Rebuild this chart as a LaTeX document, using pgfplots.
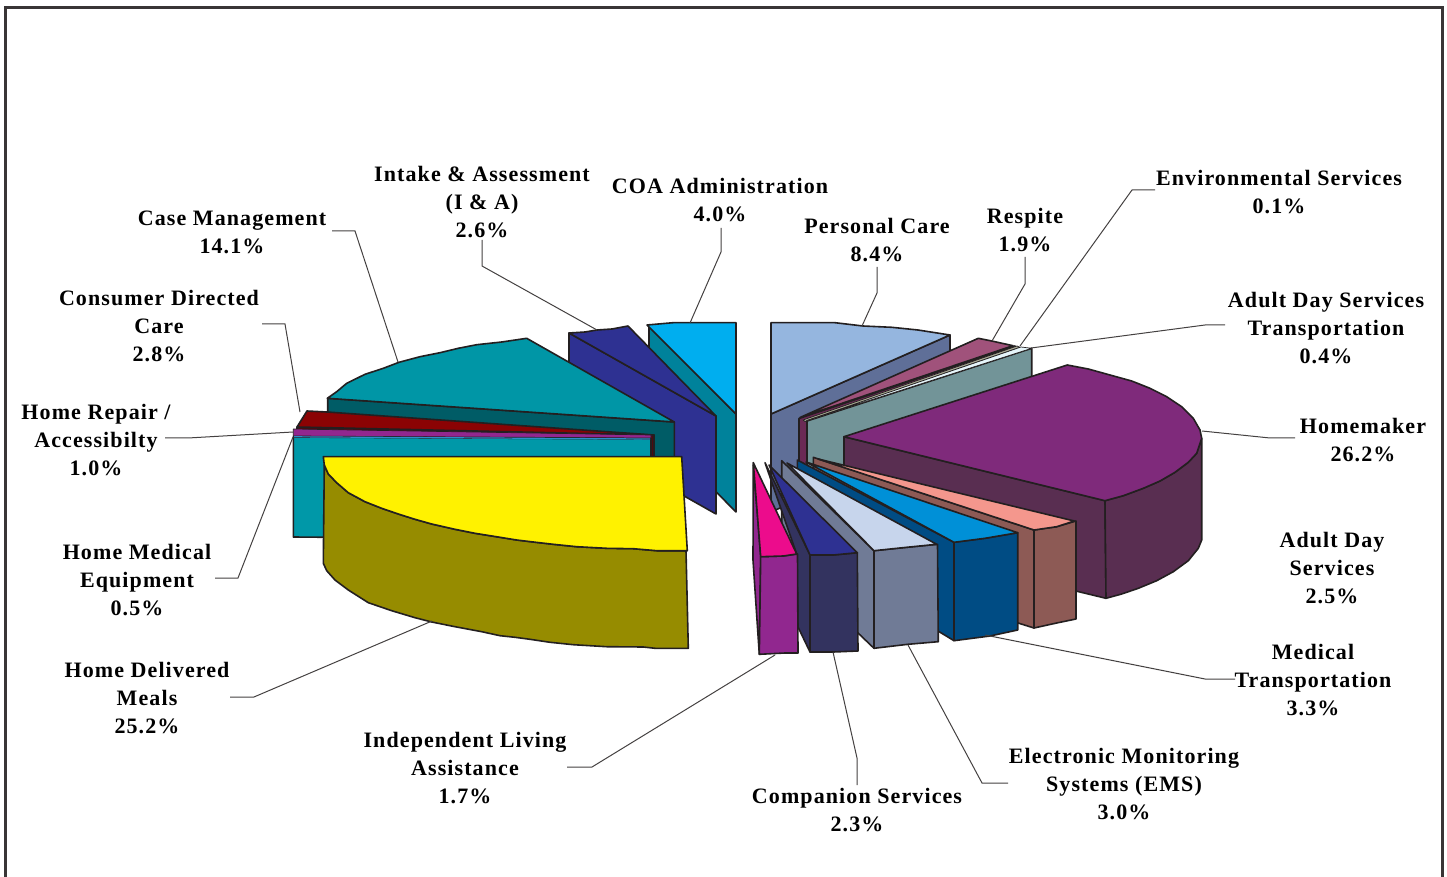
\documentclass[border=0pt]{standalone}
\usepackage{fontspec}
\setmainfont{Liberation Serif}
\usepackage{pgfplots}
\pgfplotsset{compat=1.18}

\definecolor{edge}{HTML}{231F20}
\definecolor{coaTop}{HTML}{00AEEF}
\definecolor{coaSide}{HTML}{00829B}
\definecolor{intake}{HTML}{2E3192}
\definecolor{caseTop}{HTML}{0096A6}
\definecolor{caseSide}{HTML}{005C66}
\definecolor{cdcTop}{HTML}{8B0304}
\definecolor{cdcSide}{HTML}{4D0A10}
\definecolor{repair}{HTML}{92278F}
\definecolor{medTeal}{HTML}{0098A8}
\definecolor{medLine}{HTML}{2E8CC8}
\definecolor{mealTop}{HTML}{FFF200}
\definecolor{mealSide}{HTML}{968C00}
\definecolor{pcTop}{HTML}{95B6DF}
\definecolor{pcSide}{HTML}{5F6F98}
\definecolor{respTop}{HTML}{A0527B}
\definecolor{respSide}{HTML}{6B2A55}
\definecolor{envTop}{HTML}{A9A994}
\definecolor{adtTop}{HTML}{E6F5FA}
\definecolor{adtSide}{HTML}{729498}
\definecolor{homeTop}{HTML}{7F2A7B}
\definecolor{homeSide}{HTML}{592E51}
\definecolor{adsTop}{HTML}{F4978D}
\definecolor{adsSide}{HTML}{8D5A55}
\definecolor{mtTop}{HTML}{0090D7}
\definecolor{mtSide}{HTML}{004C84}
\definecolor{emsTop}{HTML}{C7D5EC}
\definecolor{emsSide}{HTML}{707B96}
\definecolor{compTop}{HTML}{2E3192}
\definecolor{compSide}{HTML}{33335F}
\definecolor{ilaTop}{HTML}{EC0C8C}
\definecolor{ilaSide}{HTML}{91278F}

\newcommand{\face}[2]{\addplot[fill=#1,draw=edge,line width=0.8pt,line join=round] coordinates {#2} --cycle;}
\newcommand{\thinface}[2]{\addplot[fill=#1,draw=edge,line width=0.35pt,line join=round] coordinates {#2} --cycle;}
\newcommand{\leader}[1]{\addplot[draw=edge!85,line width=0.5pt] coordinates {#1};}
\tikzset{lab/.style={align=center,inner sep=0pt,font=\fontsize{11}{14}\selectfont\bfseries\addfontfeature{LetterSpace=5}}}

\begin{document}
\begin{tikzpicture}
\path[use as bounding box] (0,0) rectangle (723.5pt,438.5pt);
\begin{axis}[
    scale only axis,
    width=723.5pt, height=438.5pt,
    xmin=0, xmax=1447, ymin=0, ymax=877,
    y dir=reverse,
    hide axis,
    clip=false,
  ]
  % outer frame, the bottom is cut off
  \addplot[draw=edge!90,line width=1.5pt] coordinates {(5.5,877)(5.5,7.5)(1442,7.5)(1442,877)};

  % COA Administration
  \face{coaSide}{(649,326)(736,414)(736,512)(649,424)}
  \face{coaTop}{(647,325)(673,322.7)(736,322.7)(736,414)}
  % Intake & Assessment
  \face{intake}{(569,333)(716,416)(716,514)(569,431)}
  \face{intake}{(569,333)(585,332)(597,330)(612,329)(628,326)(716,416)}
  % Case Management
  \face{caseSide}{(327.7,398.3)(674.3,422)(674.3,520)(327.7,496)}
  \face{caseTop}{(327.3,398.3)(336.7,391.7)(346.7,383.3)(365,374.3)(383.3,368.3)(399,362.3)(420,356.7)(440,352.7)(458.3,348.3)(476.7,344.7)(501.7,342)(526.7,338.3)(674.3,422)}
  % Consumer Directed Care
  \face{cdcSide}{(297,427)(654,435)(654,470)(297,470)}
  \face{cdcTop}{(297,427)(307,411)(327,412)(654,435)}
  % Home Medical Equipment, the front wall
  \face{medTeal}{(293.3,437)(651,439)(651,540)(293.3,537)}
  % Home Repair
  \thinface{repair}{(293.3,429)(651,435)(651,438)(293.3,436)}
  \addplot[draw=medLine,line width=0.6pt] coordinates {(294,436.8)(650,439)};
  % Home Delivered Meals
  \face{mealSide}{(686,550.7)(656.7,550.7)(633.3,548.7)(606.7,548.3)(576.7,546.7)(553.3,544.3)(533.3,542)(516.7,540)(500,537.3)(475,533.3)(455,529.3)(431.7,524)(415,519.3)(398.3,514)(381.7,508.3)(365,501.7)(348.3,492.7)(336.7,482.7)(328.3,474)(324.3,465)(323.3,563.3)(326.7,570.7)(335,580)(348.3,590)(368.3,602.7)(391.7,610.7)(415,617.7)(431.7,622)(455,626.7)(481.7,631.7)(500,635.7)(515,637.3)(530,639.3)(550,642.3)(573.3,644.7)(606.7,646.7)(643.3,647)(655,648.3)(688.3,648.3)}
  \face{mealTop}{(323.3,456.7)(681.7,456.7)(687.3,550.7)(656.7,550.7)(633.3,548.7)(606.7,548.3)(576.7,546.7)(553.3,544.3)(533.3,542)(516.7,540)(500,537.3)(475,533.3)(455,529.3)(431.7,524)(415,519.3)(398.3,514)(381.7,508.3)(365,501.7)(348.3,492.7)(336.7,482.7)(328.3,474)(324.3,465)}

  % Personal Care
  \face{pcSide}{(771,414)(950,335)(950,433)(771,512)}
  \face{pcTop}{(771,414)(771,322.7)(835,322.7)(863,326)(891.7,327.3)(918,330)(950,335)}
  % Respite
  \face{respSide}{(799,418.5)(1015,346)(1015,350)(807,425)(807,472)(799,472)}
  \face{respTop}{(800,417.5)(978.3,338.3)(991.7,341)(1013,345.7)}
  % Environmental Services
  \thinface{envTop}{(803,420)(1017,346)(1020,347.3)(805,421.5)}
  % Adult Day Services Transportation
  \face{adtSide}{(807,421)(1031.7,348.3)(1031.7,446)(807,520)}
  \thinface{adtTop}{(807,420.5)(1021,347)(1031.7,348.3)}
  % Homemaker
  \face{homeSide}{(844,436.7)(1105,500.7)(1106,598.3)(844,535)}
  \face{homeSide}{(1105,500.7)(1123.3,495.7)(1143.3,488.3)(1160,481)(1175,472.3)(1188.3,462.3)(1196.7,453.3)(1201.7,438.3)(1201.7,540)(1198.3,548.3)(1188.3,560.7)(1173.3,571.7)(1156.7,580.7)(1138.3,588.3)(1121.7,594)(1106,598.3)}
  \face{homeTop}{(844,436.7)(1067.3,365)(1088.3,369)(1110,375)(1131.7,381)(1150,388.3)(1166.7,396.7)(1181.7,406.7)(1193.3,418.3)(1200,430)(1201.7,438.3)(1196.7,453.3)(1188.3,462.3)(1175,472.3)(1160,481)(1143.3,488.3)(1123.3,495.7)(1105,500.7)}
  % Adult Day Services
  \face{adsSide}{(813.3,457.3)(1034,530)(1034,628)(1018,623)(813.3,560)}
  \face{adsSide}{(1034,530)(1056.7,526.7)(1076,521)(1076,619)(1056.7,623)(1034,628)}
  \face{adsTop}{(818,459)(1034,530)(1056.7,526.7)(1074.3,521)}
  % Medical Transportation
  \face{mtSide}{(797.3,460)(954,542.3)(954,640.7)(938,631)(797.3,560)}
  \face{mtSide}{(954,542.3)(985,538.3)(1017.7,532.7)(1017.7,630)(990,636)(954,640.7)}
  \face{mtTop}{(806,462)(954,542.3)(985,538.3)(1017.7,532.7)}
  % Electronic Monitoring Systems
  \face{emsSide}{(781.7,460.7)(874,550.7)(874,648.3)(857,632)(781.7,560)}
  \face{emsSide}{(874,550.7)(906.7,547.3)(937.5,544.3)(938.3,641.7)(908,644.3)(874,648.3)}
  \face{emsTop}{(787,463)(874,550.7)(906.7,547.3)(936.7,544.3)}
  % Companion Services
  \face{compSide}{(765,462.7)(810,555)(810,652)(798,627)(797,555)}
  \face{compSide}{(810,555)(833.3,555)(857.3,552.7)(858,651)(833.3,652)(810,652)}
  \face{compTop}{(769,465)(810,555)(833.3,555)(857.3,552.7)}
  % Independent Living Assistance
  \face{ilaSide}{(753.3,462.7)(760.7,556.7)(759.3,654.3)(753,560)}
  \face{ilaSide}{(760.7,556.7)(783.3,556)(797.5,554)(798,653)(785,653)(759.3,654.3)}
  \face{ilaTop}{(753.3,462.7)(796.7,554)(783.3,556)(760.7,556.7)}

  % leader lines
  \leader{(332,231)(355,231)(398,362)}
  \leader{(482,240)(482,266)(597,330)}
  \leader{(721,228)(721,252)(690,323)}
  \leader{(877,267)(877,293)(862,326)}
  \leader{(1025,257)(1025,284)(992,341)}
  \leader{(1155,190)(1132,190)(1020,346)}
  \leader{(1225,325)(1205,325)(1031,348)}
  \leader{(1295,438)(1270,438)(1202,431)}
  \leader{(1235,679)(1205,679)(985,635)}
  \leader{(1008,783)(982,783)(908,645)}
  \leader{(857,785)(857,758)(833,652)}
  \leader{(567,767)(592,767)(775,655)}
  \leader{(230,697)(254,697)(432,621)}
  \leader{(215,578)(238,578)(293,437)}
  \leader{(165,438)(188,438)(293,432)}
  \leader{(262,324)(285,324)(300,412)}

  % labels
  \node[lab] at (axis cs:232,232) {Case Management\\14.1\%};
  \node[lab] at (axis cs:482,202) {Intake \& Assessment\\(I \& A)\\2.6\%};
  \node[lab] at (axis cs:720,200) {COA Administration\\4.0\%};
  \node[lab] at (axis cs:877,240) {Personal Care\\8.4\%};
  \node[lab] at (axis cs:1025,230) {Respite\\1.9\%};
  \node[lab] at (axis cs:1279,192) {Environmental Services\\0.1\%};
  \node[lab] at (axis cs:1326,328) {Adult Day Services\\Transportation\\0.4\%};
  \node[lab] at (axis cs:1363,440) {Homemaker\\26.2\%};
  \node[lab] at (axis cs:1332,568) {Adult Day\\Services\\2.5\%};
  \node[lab] at (axis cs:1313,680) {Medical\\Transportation\\3.3\%};
  \node[lab] at (axis cs:1124,784) {Electronic Monitoring\\Systems (EMS)\\3.0\%};
  \node[lab] at (axis cs:857,810) {Companion Services\\2.3\%};
  \node[lab] at (axis cs:465,768) {Independent Living\\Assistance\\1.7\%};
  \node[lab] at (axis cs:147,698) {Home Delivered\\Meals\\25.2\%};
  \node[lab] at (axis cs:137,580) {Home Medical\\Equipment\\0.5\%};
  \node[lab] at (axis cs:96,440) {Home Repair /\\Accessibilty\\1.0\%};
  \node[lab] at (axis cs:159,326) {Consumer Directed\\Care\\2.8\%};
\end{axis}
\end{tikzpicture}
\end{document}
